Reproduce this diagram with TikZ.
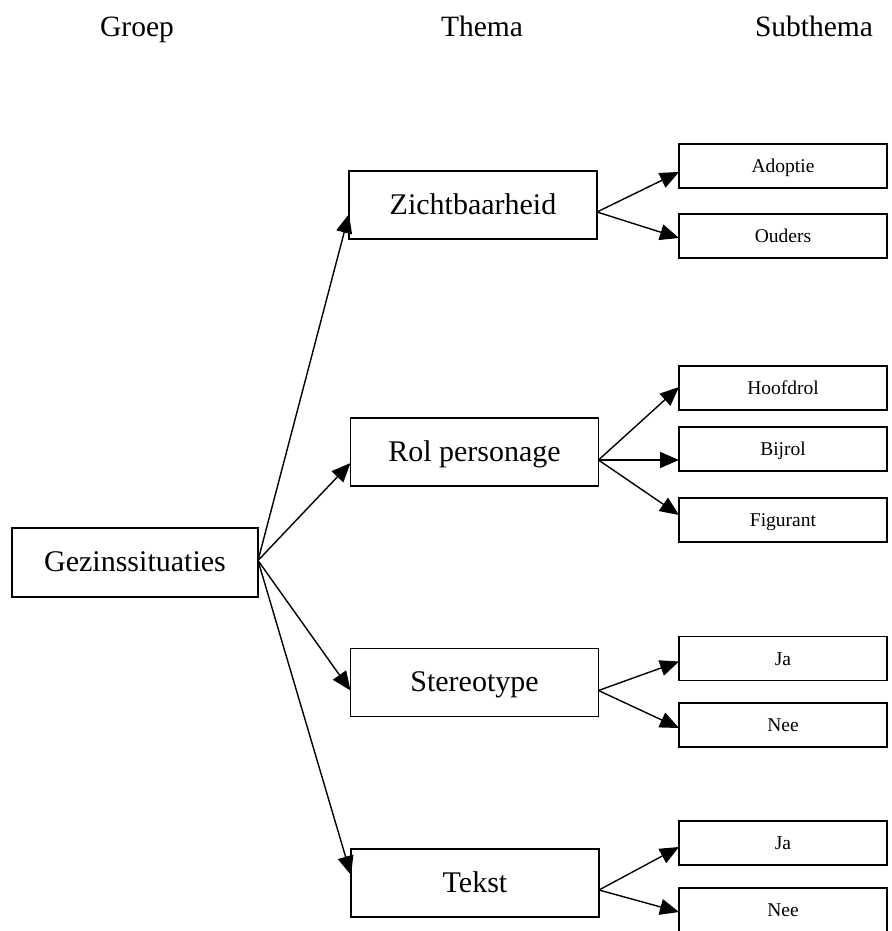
\documentclass[tikz,border=0pt]{standalone}
\usepackage{fontspec}
\setmainfont{Liberation Serif}
\usetikzlibrary{arrows.meta}
\begin{document}
\begin{tikzpicture}[x=1pt,y=-1pt,
  every node/.style={inner sep=0pt, outer sep=0pt},
  head/.style={font=\fontsize{29.5}{34}\selectfont, anchor=base},
  mainbox/.style={draw, line width=1.5pt, minimum width=248pt, minimum height=68pt,
    text height=22pt, text depth=4pt, font=\fontsize{30}{36}\selectfont},
  subbox/.style={draw, line width=1.5pt, minimum width=208pt, minimum height=44pt,
    text height=15.5pt, text depth=2.5pt, font=\fontsize{19.5}{23}\selectfont},
  link/.style={line width=1.4pt, -{Triangle[length=19pt,width=16pt]}}]
\useasboundingbox (0,0) rectangle (891,931);

% column headings
\node[head] (hgroep) at (137,37) {Groep};
\node[head] (hthema) at (482,37) {Thema};
\node[head] (hsub)   at (814,37) {Subthema};

% group
\node[mainbox, minimum width=246pt, minimum height=69pt] (gezin) at (135,562.5) {Gezinssituaties};

% themes
\node[mainbox] (zicht)  at (473,205)   {Zichtbaarheid};
\node[mainbox] (rol)    at (474.5,452) {Rol personage};
\node[mainbox] (stereo) at (474.5,682.5) {Stereotype};
\node[mainbox] (tekst)  at (475,883)   {Tekst};

% subthemes
\node[subbox] (adoptie)  at (783,166)   {Adoptie};
\node[subbox] (ouders)   at (783,236)   {Ouders};
\node[subbox] (hoofdrol) at (783,388)   {Hoofdrol};
\node[subbox] (bijrol)   at (783,449)   {Bijrol};
\node[subbox] (figurant) at (783,520)   {Figurant};
\node[subbox] (ja1)      at (783,658.5) {Ja};
\node[subbox] (nee1)     at (783,725)   {Nee};
\node[subbox] (ja2)      at (783,843)   {Ja};
\node[subbox] (nee2)     at (783,910)   {Nee};

% group -> themes
\draw[link] ([yshift=2pt]gezin.east) -- ([yshift=-9pt]zicht.west);
\draw[link] ([yshift=2pt]gezin.east) -- ([yshift=-11pt]rol.west);
\draw[link] ([yshift=2pt]gezin.east) -- ([yshift=-8pt]stereo.west);
\draw[link] ([yshift=2pt]gezin.east) -- ([yshift=8pt]tekst.west);

% themes -> subthemes
\draw[link] ([yshift=-7pt]zicht.east) -- ([yshift=-6pt]adoptie.west);
\draw[link] ([yshift=-7pt]zicht.east) -- ([yshift=-2pt]ouders.west);
\draw[link] ([yshift=-8pt]rol.east) -- ([yshift=1pt]hoofdrol.west);
\draw[link] ([yshift=-8pt]rol.east) -- ([yshift=-11pt]bijrol.west);
\draw[link] ([yshift=-8pt]rol.east) -- ([yshift=5pt]figurant.west);
\draw[link] ([yshift=-8pt]stereo.east) -- ([yshift=-3pt]ja1.west);
\draw[link] ([yshift=-8pt]stereo.east) -- ([yshift=-3pt]nee1.west);
\draw[link] ([yshift=-7pt]tekst.east) -- ([yshift=-4pt]ja2.west);
\draw[link] ([yshift=-7pt]tekst.east) -- ([yshift=-2pt]nee2.west);
\end{tikzpicture}
\end{document}
